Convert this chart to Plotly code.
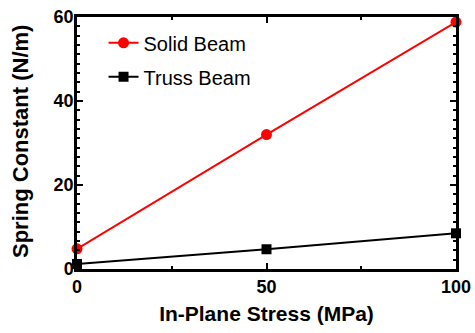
import plotly.graph_objects as go

stress = [0, 50, 100]
solid_beam = [4.8, 32.0, 58.8]
truss_beam = [1.2, 4.7, 8.5]
x_ticks = [0, 50, 100]
y_ticks = [0, 20, 40, 60]

FONT = "Arial, Liberation Sans, sans-serif"

fig = go.Figure()
fig.add_trace(go.Scatter(
    x=stress, y=solid_beam, name="Solid Beam", mode="lines+markers",
    legendgroup="a",
    line=dict(color="#ff0000", width=2),
    marker=dict(symbol="circle", size=11, color="#ff0000"),
    cliponaxis=False,
))
fig.add_trace(go.Scatter(
    x=stress, y=truss_beam, name="Truss Beam", mode="lines+markers",
    legendgroup="b",
    line=dict(color="#000000", width=2),
    marker=dict(symbol="square", size=10, color="#000000"),
    cliponaxis=False,
))

axis_common = dict(
    showgrid=False, zeroline=False, showline=True, linecolor="black",
    linewidth=2.5, mirror="allticks", ticks="inside", tickcolor="black",
    tickwidth=2, automargin=False,
    tickfont=dict(family=FONT, size=18, color="black", weight="bold"),
)

fig.update_xaxes(
    range=[0, 100], tickvals=x_ticks, ticklen=6,
    minor=dict(ticks="inside", dtick=25, tick0=0, ticklen=3, tickwidth=2, tickcolor="black"),
    title=dict(text="In-Plane Stress (MPa)", font=dict(family=FONT, size=21, color="black", weight="bold"), standoff=10),
    **axis_common,
)
fig.update_yaxes(
    range=[0, 60], tickvals=y_ticks, ticklen=6, ticklabelstandoff=-3,
    minor=dict(ticks="inside", dtick=20 / 9, tick0=0, ticklen=3, tickwidth=2, tickcolor="black"),
    **axis_common,
)

fig.add_annotation(
    text="Spring Constant (N/m)", textangle=-90,
    xref="paper", yref="paper", x=0, y=0.5, xanchor="center", yanchor="middle",
    xshift=-57, yshift=1, showarrow=False,
    font=dict(family=FONT, size=22, color="black", weight="bold"),
)

fig.update_layout(
    width=475, height=333,
    margin=dict(l=77, r=19, t=17, b=64),
    paper_bgcolor="white", plot_bgcolor="white",
    font=dict(family=FONT, color="black"),
    legend=dict(x=0.07, y=0.975, xanchor="left", yanchor="top",
                font=dict(family=FONT, size=20, color="black"),
                tracegroupgap=5,
                bgcolor="rgba(0,0,0,0)"),
)

fig.write_html("out.html")
